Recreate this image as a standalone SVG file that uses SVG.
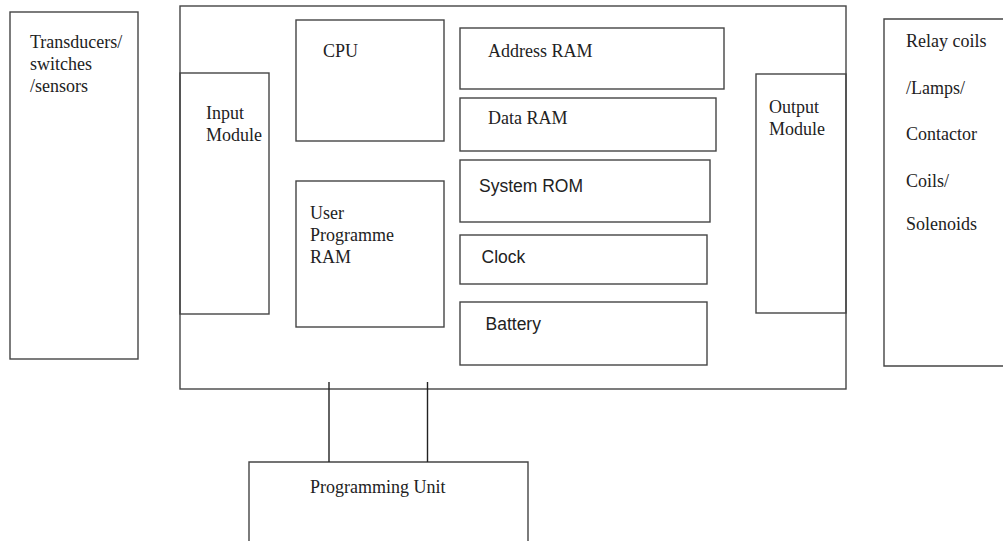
<svg xmlns="http://www.w3.org/2000/svg" width="1003" height="541" viewBox="0 0 1003 541">
<style>
.box{fill:none;stroke:#454545;stroke-width:1.4}
.ln{fill:none;stroke:#222;stroke-width:1.4}
.s{font-family:"Liberation Serif","Times New Roman",serif;font-size:18px;fill:#222}
.a{font-family:"Liberation Sans",Arial,sans-serif;font-size:17.5px;fill:#222}
</style>
<rect x="0" y="0" width="1003" height="541" fill="#fff"/>
<g id="sensors">
<rect class="box" x="10" y="12" width="128" height="347"/>
<text class="s" x="30" y="48">Transducers/</text>
<text class="s" x="30" y="70">switches</text>
<text class="s" x="30" y="92">/sensors</text>
</g>
<g id="plc">
<rect class="box" x="180" y="6" width="666" height="383"/>
</g>
<g id="input-module">
<rect class="box" x="180" y="73" width="89" height="241"/>
<text class="s" x="206" y="118.5">Input</text>
<text class="s" x="206" y="140.5">Module</text>
</g>
<g id="cpu">
<rect class="box" x="296" y="20" width="148" height="121"/>
<text class="s" x="323" y="57">CPU</text>
</g>
<g id="user-ram">
<rect class="box" x="296" y="181" width="148" height="146"/>
<text class="s" x="310" y="218.5">User</text>
<text class="s" x="310" y="240.5">Programme</text>
<text class="s" x="310" y="262.5">RAM</text>
</g>
<g id="address-ram">
<rect class="box" x="460" y="28" width="264" height="61"/>
<text class="s" x="488" y="57">Address RAM</text>
</g>
<g id="data-ram">
<rect class="box" x="460" y="98" width="256" height="53"/>
<text class="s" x="488" y="124">Data RAM</text>
</g>
<g id="system-rom">
<rect class="box" x="460" y="160" width="250" height="62"/>
<text class="a" x="479" y="191.5">System ROM</text>
</g>
<g id="clock">
<rect class="box" x="460" y="235" width="247" height="49"/>
<text class="a" x="481.5" y="263">Clock</text>
</g>
<g id="battery">
<rect class="box" x="460" y="302" width="247" height="63"/>
<text class="a" x="485.5" y="330">Battery</text>
</g>
<g id="output-module">
<rect class="box" x="756" y="74" width="90" height="239"/>
<text class="s" x="769" y="112.5">Output</text>
<text class="s" x="769" y="134.5">Module</text>
</g>
<g id="actuators">
<polyline class="box" points="1010,19 884,19 884,366 1010,366"/>
<text class="s" x="906" y="47">Relay coils</text>
<text class="s" x="906" y="94">/Lamps/</text>
<text class="s" x="906" y="140">Contactor</text>
<text class="s" x="906" y="187">Coils/</text>
<text class="s" x="906" y="230">Solenoids</text>
</g>
<g id="programming-unit">
<polyline class="box" points="249,545 249,462 528,462 528,545"/>
<text class="s" x="310" y="493">Programming Unit</text>
</g>
<g id="connectors">
<line class="ln" x1="329" y1="382" x2="329" y2="462"/>
<line class="ln" x1="427.5" y1="382" x2="427.5" y2="462"/>
</g>
</svg>
